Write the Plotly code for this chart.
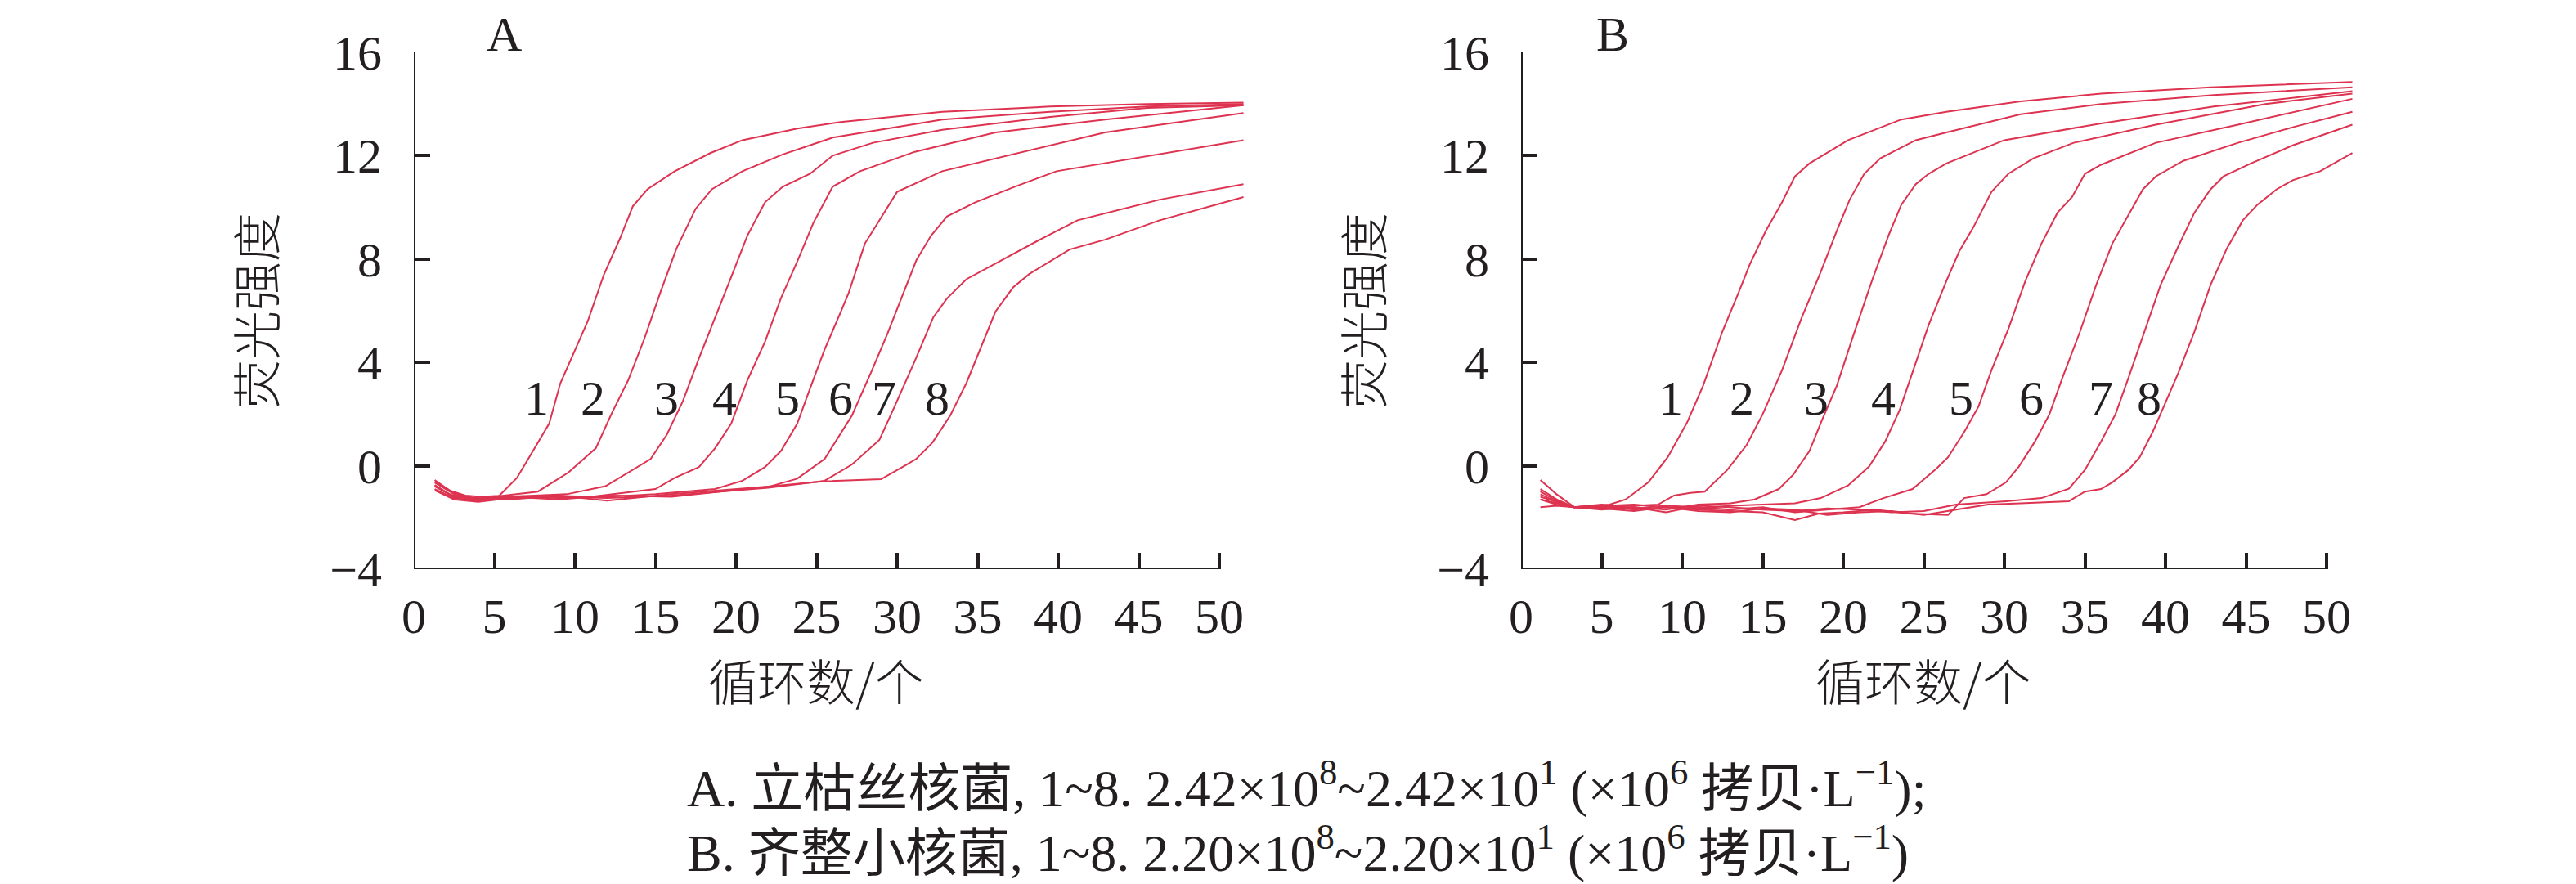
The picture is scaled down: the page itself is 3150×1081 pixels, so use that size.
import plotly.graph_objects as go

# fluorescence curves (cycle number, fluorescence)
# panel A
A1_X = [1.3, 2.2, 3.2, 4.2, 5.3, 6.4, 7.2, 8.4, 9.1, 10.1, 10.8, 11.8, 12.8,
        13.6, 14.5, 16.2, 18.4, 20.4, 23.8, 26.5, 32.8, 39.5, 45.5, 51.5]
A1_Y = [-0.55, -0.95, -1.15, -1.2, -1.16, -0.47, 0.37, 1.63, 3.2, 4.6, 5.6,
        7.4, 8.8, 10.05, 10.7, 11.4, 12.1, 12.6, 13.05, 13.3, 13.7, 13.9,
        14.0, 14.05]
A2_X = [1.3, 2.2, 3.5, 5.0, 6.5, 7.7, 9.6, 11.3, 12.3, 13.3, 14.3, 15.3,
        16.3, 17.5, 18.5, 20.4, 22.9, 26.0, 32.8, 39.5, 45.5, 51.5]
A2_Y = [-0.75, -1.1, -1.3, -1.2, -1.1, -1.0, -0.26, 0.68, 2.05, 3.3, 4.9,
        6.7, 8.4, 9.95, 10.7, 11.4, 12.05, 12.7, 13.4, 13.7, 13.9, 14.0]
A3_X = [1.3, 2.5, 3.8, 5.5, 7.5, 9.5, 11.9, 13.3, 14.7, 15.7, 16.7, 17.7,
        18.7, 19.7, 20.7, 21.8, 22.9, 24.6, 26.0, 28.5, 32.8, 39.5, 45.5,
        51.5]
A3_Y = [-0.9, -1.25, -1.35, -1.2, -1.15, -1.1, -0.79, -0.26, 0.26, 1.2, 2.5,
        4.16, 5.7, 7.3, 8.9, 10.2, 10.8, 11.3, 12.0, 12.5, 13.0, 13.5, 13.85,
        13.95]
A4_X = [1.3, 2.5, 4.0, 6.0, 8.5, 11.0, 13.0, 15.0, 16.2, 17.7, 18.7, 19.7,
        20.7, 21.8, 22.8, 23.8, 24.8, 26.0, 27.7, 31.1, 36.1, 42.9, 51.5]
A4_Y = [-0.6, -1.05, -1.3, -1.25, -1.15, -1.2, -1.05, -0.9, -0.47, -0.05,
        0.68, 1.63, 3.3, 4.8, 6.5, 7.9, 9.4, 10.8, 11.4, 12.15, 12.9, 13.4,
        13.95]
A5_X = [1.3, 2.5, 4.0, 6.0, 9.0, 12.0, 15.0, 18.7, 20.4, 21.8, 22.8, 23.8,
        24.6, 25.5, 26.5, 27.0, 28.0, 29.0, 30.0, 32.8, 37.8, 42.9, 51.5]
A5_Y = [-0.8, -1.2, -1.3, -1.2, -1.25, -1.2, -1.1, -0.9, -0.58, -0.05, 0.58,
        1.63, 3.0, 4.5, 5.95, 6.7, 8.6, 9.6, 10.6, 11.4, 12.15, 12.9, 13.65]
A6_X = [1.3, 2.5, 4.0, 6.0, 9.0, 12.0, 16.0, 19.0, 22.1, 23.8, 25.5, 27.2,
        28.4, 29.4, 30.4, 31.2, 32.1, 33.1, 34.8, 37.3, 39.9, 46.3, 51.5]
A6_Y = [-0.95, -1.3, -1.4, -1.25, -1.2, -1.25, -1.15, -1.0, -0.8, -0.5, 0.26,
        1.95, 3.64, 5.11, 6.7, 7.96, 8.9, 9.65, 10.18, 10.8, 11.4, 12.05,
        12.6]
A7_X = [1.3, 2.5, 4.0, 6.0, 9.0, 12.0, 16.0, 19.0, 22.0, 25.5, 27.2, 28.9,
        29.9, 31.1, 32.25, 33.1, 34.3, 36.5, 39.0, 41.2, 46.3, 51.5]
A7_Y = [-0.65, -1.1, -1.35, -1.2, -1.3, -1.15, -1.2, -1.0, -0.85, -0.58,
        0.05, 1.0, 2.37, 4.06, 5.75, 6.48, 7.22, 7.96, 8.8, 9.5, 10.3, 10.9]
A8_X = [1.3, 2.5, 4.0, 6.0, 9.0, 12.0, 16.0, 19.0, 22.0, 25.5, 29.0, 30.6,
        31.2, 32.2, 33.3, 34.3, 35.3, 36.1, 37.2, 38.2, 40.7, 42.9, 46.3,
        51.5]
A8_Y = [-0.75, -1.2, -1.25, -1.3, -1.15, -1.35, -1.1, -0.95, -0.8, -0.6,
        -0.52, 0.05, 0.27, 0.9, 1.95, 3.2, 4.7, 5.96, 6.9, 7.42, 8.37, 8.75,
        9.5, 10.4]

# panel B
B1_X = [1.2, 2.2, 3.3, 4.5, 5.5, 6.5, 7.9, 9.1, 10.3, 11.3, 12.5, 13.5, 14.2,
        15.2, 16.2, 17.0, 17.9, 20.3, 23.6, 26.4, 31.0, 36.0, 42.8, 51.6]
B1_Y = [-0.55, -1.1, -1.6, -1.55, -1.5, -1.3, -0.64, 0.33, 1.67, 3.1, 5.2,
        6.7, 7.8, 9.1, 10.2, 11.2, 11.7, 12.6, 13.4, 13.7, 14.1, 14.4, 14.65,
        14.85]
B2_X = [1.2, 2.2, 3.3, 5.0, 7.0, 8.5, 9.5, 10.5, 11.4, 12.8, 14.0, 15.0,
        16.2, 17.4, 18.6, 19.6, 20.4, 21.3, 22.3, 24.5, 26.4, 31.0, 36.0,
        43.0, 51.6]
B2_Y = [-0.9, -1.3, -1.6, -1.6, -1.55, -1.5, -1.15, -1.05, -1.0, -0.16, 0.8,
        2.0, 3.7, 5.7, 7.5, 9.1, 10.3, 11.3, 11.9, 12.6, 12.9, 13.6, 14.0,
        14.35, 14.65]
B3_X = [1.2, 2.2, 3.3, 5.0, 7.0, 9.0, 11.0, 13.0, 14.5, 16.0, 16.9, 17.9,
        18.7, 19.6, 20.6, 21.8, 22.8, 23.6, 24.5, 25.3, 26.4, 30.0, 36.0,
        43.0, 51.6]
B3_Y = [-1.1, -1.4, -1.6, -1.65, -1.6, -1.7, -1.5, -1.45, -1.3, -0.9, -0.34,
        0.57, 1.8, 3.1, 5.0, 7.2, 8.9, 10.1, 10.9, 11.3, 11.7, 12.6, 13.25,
        13.9, 14.5]
B4_X = [1.2, 2.2, 3.3, 5.0, 7.0, 9.0, 11.0, 13.0, 15.0, 17.0, 18.6, 20.3,
        21.6, 22.6, 23.5, 24.3, 25.3, 26.4, 27.2, 28.05, 29.2, 30.25, 31.8,
        34.3, 39.4, 46.2, 51.6]
B4_Y = [-1.3, -1.5, -1.6, -1.55, -1.5, -1.6, -1.65, -1.55, -1.5, -1.45,
        -1.25, -0.76, -0.03, 0.94, 2.16, 3.6, 5.45, 7.15, 8.3, 9.2, 10.6,
        11.3, 11.9, 12.5, 13.2, 14.0, 14.4]
B5_X = [1.2, 2.2, 3.3, 5.0, 7.0, 9.0, 11.0, 13.0, 15.0, 17.0, 19.0, 21.0,
        22.5, 24.3, 25.8, 26.5, 27.5, 28.4, 29.2, 30.25, 31.3, 32.3, 33.3,
        34.2, 35.0, 36.0, 39.4, 44.5, 51.6]
B5_Y = [-1.0, -1.35, -1.6, -1.5, -1.65, -1.55, -1.6, -1.7, -1.6, -1.8, -1.7,
        -1.6, -1.25, -0.9, -0.1, 0.33, 1.3, 2.3, 3.7, 5.3, 7.15, 8.6, 9.8,
        10.4, 11.3, 11.65, 12.5, 13.2, 14.2]
B6_X = [1.2, 2.2, 3.3, 5.0, 7.0, 9.0, 11.0, 13.0, 15.0, 16.0, 17.0, 18.5,
        20.0, 22.0, 24.0, 26.5, 27.5, 28.9, 30.1, 30.9, 31.9, 32.8, 33.6,
        34.7, 35.7, 36.7, 37.7, 38.6, 39.4, 41.1, 44.5, 47.9, 51.6]
B6_Y = [-1.3, -1.45, -1.6, -1.65, -1.75, -1.6, -1.7, -1.75, -1.8, -1.95,
        -2.1, -1.85, -1.8, -1.7, -1.85, -1.9, -1.25, -1.1, -0.64, -0.03, 0.94,
        2.0, 3.4, 5.2, 7.0, 8.6, 9.7, 10.7, 11.2, 11.8, 12.5, 13.1, 13.7]
B7_X = [1.2, 2.2, 3.3, 5.0, 7.0, 9.0, 11.0, 13.0, 15.0, 17.0, 19.0, 21.0,
        23.0, 25.0, 27.0, 30.1, 32.3, 34.0, 35.0, 36.0, 36.9, 37.7, 38.7,
        39.7, 40.8, 41.8, 42.8, 43.6, 45.3, 47.9, 51.6]
B7_Y = [-1.2, -1.4, -1.6, -1.7, -1.6, -1.8, -1.55, -1.6, -1.7, -1.75, -1.65,
        -1.7, -1.8, -1.75, -1.5, -1.37, -1.25, -0.89, -0.16, 0.94, 2.0, 3.4,
        5.2, 7.0, 8.5, 9.8, 10.7, 11.2, 11.7, 12.4, 13.2]
B8_X = [1.2, 2.2, 3.3, 5.0, 7.0, 9.0, 11.0, 13.0, 15.0, 17.0, 19.0, 21.0,
        23.0, 25.0, 27.0, 29.0, 31.0, 34.0, 35.0, 36.0, 36.7, 37.7, 38.4,
        39.2, 39.9, 40.8, 41.8, 42.8, 43.8, 44.8, 45.7, 46.9, 47.9, 49.6,
        51.6]
B8_Y = [-1.6, -1.55, -1.6, -1.55, -1.7, -1.6, -1.75, -1.8, -1.65, -1.7, -1.9,
        -1.8, -1.75, -1.9, -1.7, -1.5, -1.45, -1.37, -1.0, -0.9, -0.64, -0.16,
        0.33, 1.3, 2.3, 3.6, 5.2, 7.0, 8.4, 9.5, 10.1, 10.7, 11.05, 11.4,
        12.1]

# curve numbers written next to each curve
LABELS = ['1', '2', '3', '4', '5', '6', '7', '8']
A_LABEL_X = [7.6, 11.1, 15.7, 19.3, 23.2, 26.5, 29.2, 32.5]
A_LABEL_Y = [2.6, 2.6, 2.6, 2.6, 2.6, 2.6, 2.6, 2.6]
B_LABEL_X = [9.3, 13.7, 18.3, 22.5, 27.3, 31.7, 36.0, 39.0]
B_LABEL_Y = [2.6, 2.6, 2.6, 2.6, 2.6, 2.6, 2.6, 2.6]

X_TICKS = [0, 5, 10, 15, 20, 25, 30, 35, 40, 45, 50]
Y_TICKS = [-4, 0, 4, 8, 12, 16]
X_TITLE = '循环数/个'
Y_TITLE = '荧光强度'
CAPTION_A = ('A. 立枯丝核菌, 1~8. 2.42×10<sup>8</sup>~2.42×10<sup>1</sup> '
             '(×10<sup>6</sup> 拷贝·L<sup>−1</sup>);')
CAPTION_B = ('B. 齐整小核菌, 1~8. 2.20×10<sup>8</sup>~2.20×10<sup>1</sup> '
             '(×10<sup>6</sup> 拷贝·L<sup>−1</sup>)')

W, H = 3150, 1081
RED = '#dd3350'
INK = '#231f20'
FONT = 'Liberation Serif, Noto Sans CJK SC, serif'
CJK = 'Noto Sans CJK SC, sans-serif'

# pixel layout of the two panels (x=0 position, px per cycle, y pixels)
PX_PER_CYCLE = 19.7
X_MAX = 52
Y_BOTTOM, Y_TOP = 688, 56


def px_domain(x0):
    return [x0 / W, (x0 + X_MAX * PX_PER_CYCLE) / W]


def paper_text(text, px, py, size=60, family=FONT, **kw):
    # text placed by pixel position on the page
    return dict(x=px / W, y=1 - py / H, xref='paper', yref='paper',
                text=text, showarrow=False, xanchor=kw.pop('xanchor', 'center'),
                yanchor='middle',
                font=dict(family=family, size=size, color=INK,
                          **kw.pop('font_extra', {})), **kw)


fig = go.Figure()

a_curves = [(A1_X, A1_Y), (A2_X, A2_Y), (A3_X, A3_Y), (A4_X, A4_Y),
            (A5_X, A5_Y), (A6_X, A6_Y), (A7_X, A7_Y), (A8_X, A8_Y)]
b_curves = [(B1_X, B1_Y), (B2_X, B2_Y), (B3_X, B3_Y), (B4_X, B4_Y),
            (B5_X, B5_Y), (B6_X, B6_Y), (B7_X, B7_Y), (B8_X, B8_Y)]

for xs, ys in a_curves:
    fig.add_trace(go.Scatter(x=xs, y=ys, mode='lines', xaxis='x', yaxis='y',
                             line=dict(color=RED, width=2),
                             showlegend=False, hoverinfo='skip'))
for xs, ys in b_curves:
    fig.add_trace(go.Scatter(x=xs, y=ys, mode='lines', xaxis='x2', yaxis='y2',
                             line=dict(color=RED, width=2),
                             showlegend=False, hoverinfo='skip'))

axis_common = dict(showgrid=False, zeroline=False, showline=False,
                   automargin=False,
                   ticks='inside', ticklen=20, tickwidth=4, tickcolor=INK,
                   tickfont=dict(family=FONT, size=60, color=INK),
                   fixedrange=True)
x_axis = dict(axis_common, range=[0, X_MAX], tickmode='array',
              tickvals=X_TICKS, ticklabelstandoff=17)
y_axis = dict(axis_common, range=[-4, 16], tickmode='array',
              tickvals=Y_TICKS, ticklabelstandoff=38,
              domain=[1 - Y_BOTTOM / H, 1 - Y_TOP / H])

fig.update_layout(
    template='none',
    width=W, height=H,
    margin=dict(l=0, r=0, t=0, b=0, pad=0, autoexpand=False),
    paper_bgcolor='white', plot_bgcolor='white',
    xaxis=dict(x_axis, domain=px_domain(498), anchor='y'),
    yaxis=dict(y_axis, anchor='x'),
    xaxis2=dict(x_axis, domain=px_domain(1852), anchor='y2'),
    yaxis2=dict(y_axis, anchor='x2'),
)

# axis lines stop at 50 cycles / 16 units like the original
shapes = []
for xr, yr in [('x', 'y'), ('x2', 'y2')]:
    shapes.append(dict(type='line', xref=xr, yref=yr, x0=0, x1=0,
                       y0=-4.06, y1=16, line=dict(color=INK, width=4)))
    shapes.append(dict(type='line', xref=xr, yref=yr, x0=-0.1, x1=50,
                       y0=-4, y1=-4, line=dict(color=INK, width=4)))
fig.update_layout(shapes=shapes)

annotations = []
for xr, yr, lx, ly in [('x', 'y', A_LABEL_X, A_LABEL_Y),
                       ('x2', 'y2', B_LABEL_X, B_LABEL_Y)]:
    for text, x, y in zip(LABELS, lx, ly):
        annotations.append(dict(x=x, y=y, xref=xr, yref=yr, text=text,
                                showarrow=False, xanchor='center',
                                yanchor='middle',
                                font=dict(family=FONT, size=60, color=INK)))

# panel letters and axis titles
for letter, cx, ax0 in [('A', 608, 498), ('B', 1964, 1852)]:
    annotations.append(paper_text(letter, cx, 34))
    annotations.append(paper_text(Y_TITLE, ax0 - 196, 372, family=CJK,
                                  textangle=-90,
                                  font_extra=dict(weight=300)))
    annotations.append(paper_text(X_TITLE, ax0 + 492, 822, family=CJK,
                                  font_extra=dict(weight=300)))

# caption below the panels
for text, cy in [(CAPTION_A, 951), (CAPTION_B, 1030)]:
    annotations.append(paper_text(text, 830, cy, size=64, xanchor='left',
                                  align='left'))

fig.update_layout(annotations=annotations)

fig.write_html("out.html")
